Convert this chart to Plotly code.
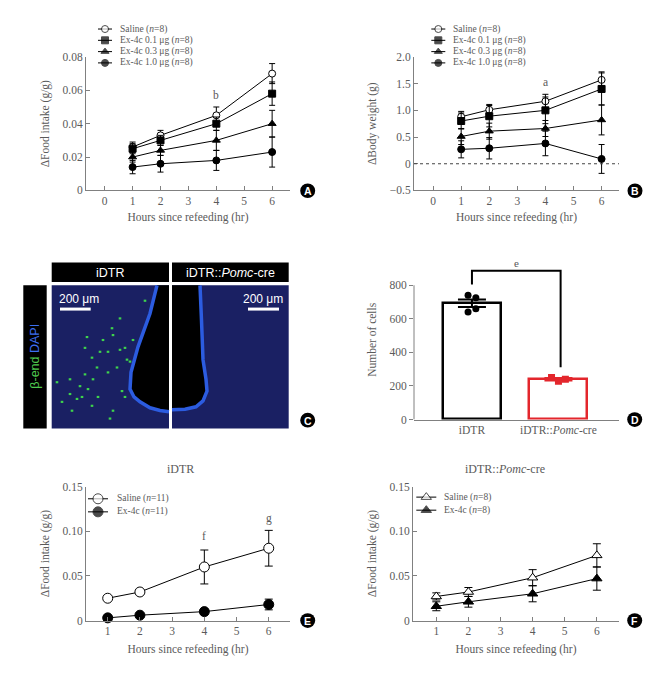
import plotly.graph_objects as go

# page places the figure 8 px in from the top-left corner, so the figure is
# sized to fit the 666x681 window and all positions are in window pixels
OFF = 8
W, H = 666 - 2 * OFF, 681 - 2 * OFF
SERIF = "Liberation Serif, Times New Roman, serif"
SANS = "Liberation Sans, Arial, sans-serif"
GREY = "#5a5a5a"
AXIS = "#808080"

# ---- data -------------------------------------------------------------
hours = [1, 2, 4, 6]
x_ticks_ab = [0, 1, 2, 3, 4, 5, 6]
x_ticks_ef = [1, 2, 3, 4, 5, 6]

# panel A: food intake (g/g)
food_saline = [0.026, 0.033, 0.045, 0.070]
food_saline_err = [0.003, 0.003, 0.005, 0.006]
food_ex01 = [0.025, 0.030, 0.040, 0.058]
food_ex01_err = [0.003, 0.003, 0.004, 0.007]
food_ex03 = [0.020, 0.024, 0.030, 0.040]
food_ex03_err = [0.003, 0.003, 0.006, 0.008]
food_ex10 = [0.014, 0.016, 0.018, 0.023]
food_ex10_err = [0.004, 0.005, 0.006, 0.009]

# panel B: body weight (g)
bw_saline = [0.88, 1.01, 1.17, 1.57]
bw_saline_err = [0.10, 0.10, 0.13, 0.15]
bw_ex01 = [0.80, 0.89, 1.00, 1.40]
bw_ex01_err = [0.15, 0.20, 0.25, 0.30]
bw_ex03 = [0.51, 0.61, 0.66, 0.82]
bw_ex03_err = [0.15, 0.15, 0.15, 0.28]
bw_ex10 = [0.27, 0.29, 0.38, 0.09]
bw_ex10_err = [0.16, 0.20, 0.23, 0.27]

dose_labels = [
    "Saline (<i>n</i>=8)",
    "Ex-4c 0.1 μg (<i>n</i>=8)",
    "Ex-4c 0.3 μg (<i>n</i>=8)",
    "Ex-4c 1.0 μg (<i>n</i>=8)",
]

# panel D: number of cells
d_groups = ["iDTR", "iDTR::<i>Pomc</i>-cre"]
d_mean = [693, 240]
d_sem = [22, 8]
d_idtr_cells = [740, 725, 660, 640]
d_pomc_cells = [250, 228, 240]
d_bracket_y = [805, 887, 887, 312]

# panel E: iDTR food intake
e_saline = [0.025, 0.032, 0.060, 0.081]
e_saline_err = [0.001, 0.003, 0.019, 0.020]
e_ex4c = [0.003, 0.006, 0.010, 0.018]
e_ex4c_err = [0.001, 0.001, 0.003, 0.006]
e_labels = ["Saline (<i>n</i>=11)", "Ex-4c (<i>n</i>=11)"]

# panel F: iDTR::Pomc-cre food intake
f_saline = [0.027, 0.032, 0.048, 0.073]
f_saline_err = [0.004, 0.005, 0.009, 0.013]
f_ex4c = [0.016, 0.021, 0.030, 0.047]
f_ex4c_err = [0.005, 0.006, 0.009, 0.013]
f_labels = ["Saline (<i>n</i>=8)", "Ex-4c (<i>n</i>=8)"]

# significance letters (x, y, text)
a_sig = [(4, 0.057, "b"), (6, 0.085, "c,d")]
b_sig = [(4, 1.53, "a"), (6, 2.04, "c,d")]
e_sig = [(4, 0.095, "f"), (6, 0.114, "g")]


def dom_x(left, right):
    return [(left - OFF) / W, (right - OFF) / W]


def dom_y(top, bottom):
    return [1 - (bottom - OFF) / H, 1 - (top - OFF) / H]


def axis(dom, rng, vals, text, anchor, ticks="inside", title=None, standoff=6):
    d = dict(
        domain=dom,
        range=rng,
        anchor=anchor,
        tickmode="array",
        tickvals=vals,
        ticktext=text,
        ticks=ticks,
        ticklen=4,
        tickcolor=AXIS,
        showline=True,
        linecolor=AXIS,
        linewidth=1,
        showgrid=False,
        zeroline=False,
        fixedrange=True,
        tickfont=dict(family=SERIF, size=11.5, color=GREY),
    )
    if title:
        d["title"] = dict(text=title, standoff=standoff,
                          font=dict(family=SERIF, size=11.5, color=GREY))
    return d


def add_series(fig, xa, ya, y, err, symbol, fill, size, cap):
    fig.add_trace(go.Scatter(
        x=hours, y=y, xaxis=xa, yaxis=ya, mode="lines+markers",
        line=dict(color="black", width=1),
        marker=dict(symbol=symbol, size=size, color=fill,
                    line=dict(color="black", width=1)),
        error_y=dict(type="data", array=err, color="black",
                     thickness=1, width=cap),
        showlegend=False, cliponaxis=False, hoverinfo="x+y",
    ))


def add_key(fig, sx, sy, tx, label, symbol, fill, size, half=8, fsize=9.5):
    """Compact legend row drawn on the pixel overlay axis."""
    fig.add_trace(go.Scatter(
        x=[sx - half, sx, sx + half], y=[sy, sy, sy], xaxis="x6", yaxis="y6",
        mode="lines+markers", line=dict(color="black", width=1),
        marker=dict(symbol=symbol, size=[0, size, 0], color=fill,
                    line=dict(color="black", width=[0, 1, 0])),
        showlegend=False, hoverinfo="skip", cliponaxis=False,
    ))
    fig.add_annotation(xref="x6", yref="y6", x=tx, y=sy, text=label,
                       xanchor="left", yanchor="middle", showarrow=False,
                       font=dict(family=SERIF, size=fsize, color=GREY))


def add_sig(fig, xa, ya, items):
    for x, y, t in items:
        fig.add_annotation(xref=xa, yref=ya, x=x, y=y, text=t, showarrow=False,
                           font=dict(family=SERIF, size=11.5, color=GREY))


def panel_tag(fig, cx, cy, letter):
    r = 7.5
    fig.add_shape(type="circle", xref="x6", yref="y6", x0=cx - r, x1=cx + r,
                  y0=cy - r, y1=cy + r, fillcolor="black", line=dict(width=0))
    fig.add_annotation(xref="x6", yref="y6", x=cx, y=cy + 0.5, text=f"<b>{letter}</b>",
                       showarrow=False, font=dict(family=SANS, size=10.5, color="white"))


fig = go.Figure()

# ---- A ----------------------------------------------------------------
styles4 = [("circle", "white"), ("square", "black"),
           ("triangle-up", "black"), ("circle", "black")]
a_data = [(food_saline, food_saline_err), (food_ex01, food_ex01_err),
          (food_ex03, food_ex03_err), (food_ex10, food_ex10_err)]
for (y, e), (sym, fill) in zip(a_data, styles4):
    add_series(fig, "x", "y", y, e, sym, fill, 7, 3)
add_sig(fig, "x", "y", a_sig)

# ---- B ----------------------------------------------------------------
b_data = [(bw_saline, bw_saline_err), (bw_ex01, bw_ex01_err),
          (bw_ex03, bw_ex03_err), (bw_ex10, bw_ex10_err)]
for (y, e), (sym, fill) in zip(b_data, styles4):
    add_series(fig, "x2", "y2", y, e, sym, fill, 7, 3)
add_sig(fig, "x2", "y2", b_sig)
fig.add_shape(type="line", xref="x2 domain", yref="y2", x0=0, x1=1, y0=0, y1=0,
              line=dict(color="#444444", width=1.2, dash="dot"))

# legends A & B
for i, ((sym, fill), lab) in enumerate(zip(styles4, dose_labels)):
    ry = 23.3 + i * 11.5
    add_key(fig, 105, ry, 118, lab, sym, fill, 7, half=7)
    add_key(fig, 438.3, ry, 451.3, lab, sym, fill, 7, half=7)

# ---- D ----------------------------------------------------------------
d_colors = ["black", "#e3262c"]
for i, (g, m, s, c) in enumerate(zip(d_groups, d_mean, d_sem, d_colors)):
    fig.add_trace(go.Bar(
        x=[i], y=[m], width=0.67, xaxis="x3", yaxis="y3",
        marker=dict(color="white", line=dict(color=c, width=2.5)),
        error_y=dict(type="data", array=[s], color=c, thickness=2, width=14),
        showlegend=False, name=g,
    ))
fig.add_trace(go.Scatter(
    x=[-0.045, 0.045, 0.045, -0.045], y=d_idtr_cells, xaxis="x3", yaxis="y3",
    mode="markers", marker=dict(symbol="circle", size=7, color="black"),
    showlegend=False,
))
fig.add_trace(go.Scatter(
    x=[0.92, 1.0, 1.08], y=d_pomc_cells, xaxis="x3", yaxis="y3",
    mode="markers", marker=dict(symbol="square", size=7, color="#e3262c"),
    showlegend=False,
))
fig.add_trace(go.Scatter(
    x=[0, 0, 1.025, 1.025], y=d_bracket_y, xaxis="x3", yaxis="y3",
    mode="lines", line=dict(color="black", width=2), showlegend=False,
    hoverinfo="skip",
))
fig.add_annotation(xref="x3", yref="y3", x=0.51, y=935, text="e", showarrow=False,
                   font=dict(family=SERIF, size=11, color=GREY))
fig.add_shape(type="line", xref="x3 domain", yref="y3", x0=0, x1=0, y0=0, y1=800,
              line=dict(color=AXIS, width=1))

# ---- E ----------------------------------------------------------------
add_series(fig, "x4", "y4", e_saline, e_saline_err, "circle", "white", 10, 4)
add_series(fig, "x4", "y4", e_ex4c, e_ex4c_err, "circle", "black", 10, 4)
add_sig(fig, "x4", "y4", e_sig)
add_key(fig, 98, 501.7, 115, e_labels[0], "circle", "white", 10, half=10)
add_key(fig, 98, 515.0, 115, e_labels[1], "circle", "black", 10, half=10)

# ---- F ----------------------------------------------------------------
add_series(fig, "x5", "y5", f_saline, f_saline_err, "triangle-up", "white", 9, 4)
add_series(fig, "x5", "y5", f_ex4c, f_ex4c_err, "triangle-up", "black", 9, 4)
add_key(fig, 426.3, 500.0, 442.3, f_labels[0], "triangle-up", "white", 9, half=10)
add_key(fig, 426.3, 513.3, 442.3, f_labels[1], "triangle-up", "black", 9, half=10)

fig.add_annotation(xref="x6", yref="y6", x=180, y=471.7, text="iDTR", showarrow=False,
                   font=dict(family=SERIF, size=12, color=GREY))
fig.add_annotation(xref="x6", yref="y6", x=504.7, y=471.7,
                   text="iDTR::<i>Pomc</i>-cre", showarrow=False,
                   font=dict(family=SERIF, size=12, color=GREY))

# ---- C (micrograph stand-in) -----------------------------------------
TISSUE = "#1a2063"
VENT_BLUE = "#2c5ce0"
fig.add_shape(type="rect", xref="x6", yref="y6", x0=23.3, x1=46.7, y0=284.3, y1=430,
              fillcolor="black", line=dict(width=0))
for x0, x1, lab in [(51.7, 169, "iDTR"), (172, 288.7, "iDTR::<i>Pomc</i>-cre")]:
    fig.add_shape(type="rect", xref="x6", yref="y6", x0=x0, x1=x1, y0=261, y1=281,
                  fillcolor="black", line=dict(width=0))
    fig.add_annotation(xref="x6", yref="y6", x=(x0 + x1) / 2, y=271.5, text=lab,
                       showarrow=False, font=dict(family=SANS, size=12.5, color="white"))
    fig.add_shape(type="rect", xref="x6", yref="y6", x0=x0, x1=x1, y0=284.3, y1=430,
                  fillcolor=TISSUE, line=dict(width=0))

left_vent = "M 157,284.3 L 150,313 L 138,347 L 131,373 L 130,390 L 134,398 " \
            "L 140,403 L 150,409 L 160,411.7 L 169,413"
right_vent = "M 200,284.3 L 201.5,320 L 203,360 L 206,380 L 207,392 L 203,402 " \
             "L 196,408 L 185,410.5 L 172,411"
fig.add_shape(type="path", xref="x6", yref="y6", path=left_vent + " L 169,284.3 Z",
              fillcolor="black", line=dict(width=0))
fig.add_shape(type="path", xref="x6", yref="y6", path=right_vent + " L 172,284.3 Z",
              fillcolor="black", line=dict(width=0))
for p in (left_vent, right_vent):
    fig.add_shape(type="path", xref="x6", yref="y6", path=p,
                  line=dict(color=VENT_BLUE, width=3.5))

specks = [(112, 328), (113, 335), (103, 340), (85, 348), (100, 352), (92, 358),
          (108, 352), (120, 350), (125, 348), (127, 360), (117, 368), (97, 368),
          (85, 375), (108, 373), (93, 380), (70, 380), (80, 387), (88, 390),
          (70, 395), (77, 400), (82, 398), (92, 407), (98, 398), (122, 392),
          (113, 412), (72, 412), (57, 383), (130, 362), (133, 340), (87, 337),
          (125, 398), (110, 420), (62, 403), (145, 300), (120, 318)]
for sx, sy in specks:
    fig.add_shape(type="rect", xref="x6", yref="y6", x0=sx - 1.3, x1=sx + 1.3,
                  y0=sy - 1.1, y1=sy + 1.1, fillcolor="#3ed44c", line=dict(width=0))

for tx, bx0, bx1 in [(79, 60, 90.7), (263, 248, 279)]:
    fig.add_annotation(xref="x6", yref="y6", x=tx, y=298, text="200 μm", showarrow=False,
                       font=dict(family=SANS, size=12, color="white"))
    fig.add_shape(type="line", xref="x6", yref="y6", x0=bx0, x1=bx1, y0=308.5, y1=308.5,
                  line=dict(color="white", width=3))
fig.add_annotation(xref="x6", yref="y6", x=35, y=357, textangle=-90, showarrow=False,
                   text="<span style='color:#4fc94f'>β-end</span> "
                        "<span style='color:#3d6ff0'>DAPI</span>",
                   font=dict(family=SANS, size=12.5))

for cx, cy, letter in [(307.7, 188, "A"), (635, 188, "B"), (307.7, 421.7, "C"),
                       (634.7, 421, "D"), (307.7, 625.7, "E"), (634.7, 625.7, "F")]:
    panel_tag(fig, cx, cy, letter)

# ---- layout -----------------------------------------------------------
HRS = "Hours since refeeding (hr)"
FOOD = "ΔFood intake (g/g)"
fig.update_layout(
    width=W, height=H, margin=dict(l=0, r=0, t=0, b=0),
    paper_bgcolor="white", plot_bgcolor="rgba(0,0,0,0)",
    showlegend=False, bargap=0,
    xaxis=axis(dom_x(86, 290), [-0.67, 6.64], x_ticks_ab,
               [str(v) for v in x_ticks_ab], "y", title=HRS),
    yaxis=axis(dom_y(51.7, 187.7), [0, 0.08], [0, 0.02, 0.04, 0.06, 0.08],
               ["0", "0.02", "0.04", "0.06", "0.08"], "x", title=FOOD, standoff=10),
    xaxis2=axis(dom_x(414, 619), [-0.68, 6.62], x_ticks_ab,
                [str(v) for v in x_ticks_ab], "y2", title=HRS),
    yaxis2=axis(dom_y(51.7, 187.7), [-0.5, 2.0], [-0.5, 0, 0.5, 1.0, 1.5, 2.0],
                ["−0.5", "0", "0.5", "1.0", "1.5", "2.0"], "x2",
                title="ΔBody weight (g)", standoff=10),
    xaxis3=axis(dom_x(414, 619), [-0.67, 1.70], [0, 1], d_groups, "y3", ticks=""),
    yaxis3=axis(dom_y(258.6, 421), [0, 950], [0, 200, 400, 600, 800],
                ["0", "200", "400", "600", "800"], "x3", ticks="outside",
                title="Number of cells", standoff=10),
    xaxis4=axis(dom_x(86, 290), [0.326, 6.66], x_ticks_ef,
                [str(v) for v in x_ticks_ef], "y4", title=HRS, standoff=8),
    yaxis4=axis(dom_y(489.3, 625.7), [0, 0.15], [0, 0.05, 0.10, 0.15],
                ["0", "0.05", "0.10", "0.15"], "x4", title=FOOD, standoff=10),
    xaxis5=axis(dom_x(413, 619), [0.274, 6.69], x_ticks_ef,
                [str(v) for v in x_ticks_ef], "y5", title=HRS, standoff=8),
    yaxis5=axis(dom_y(489.3, 625.7), [0, 0.15], [0, 0.05, 0.10, 0.15],
                ["0", "0.05", "0.10", "0.15"], "x5", title=FOOD, standoff=10),
    xaxis6=dict(domain=[0, 1], range=[OFF, OFF + W], anchor="y6", visible=False,
                fixedrange=True),
    yaxis6=dict(domain=[0, 1], range=[OFF + H, OFF], anchor="x6", visible=False,
                fixedrange=True),
)
fig.update_yaxes(showline=False, selector=dict(anchor="x3"))
fig.update_xaxes(layer="above traces", selector=dict(anchor="y3"))

fig.write_html("out.html")
